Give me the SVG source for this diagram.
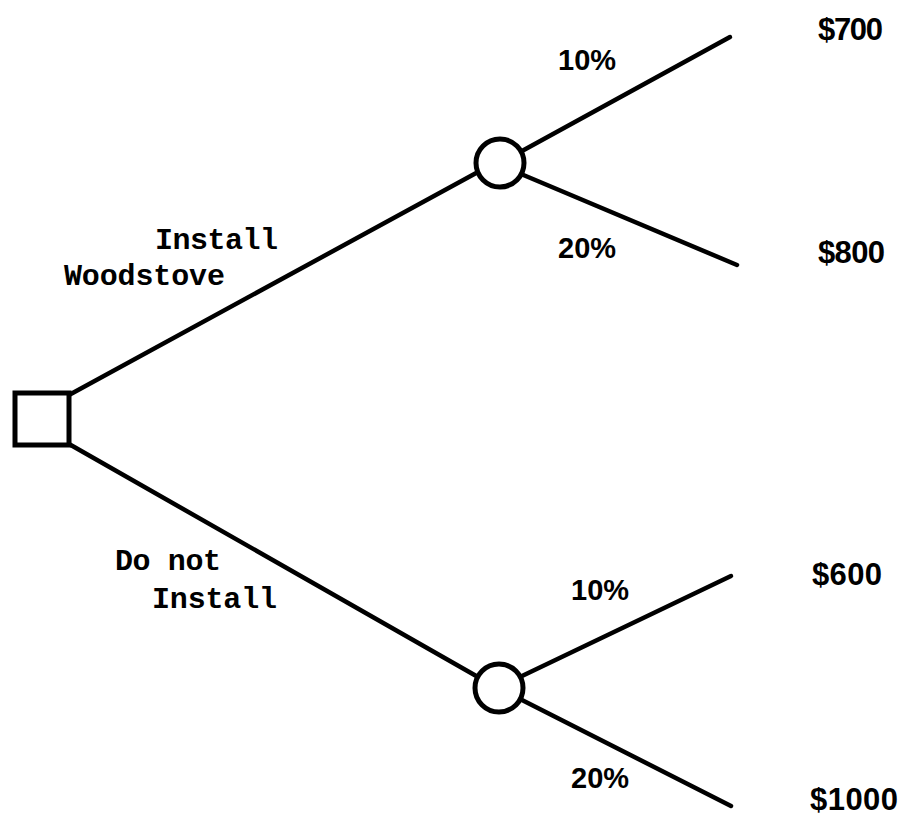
<svg xmlns="http://www.w3.org/2000/svg" width="905" height="822" viewBox="0 0 905 822">
  <style>
    .edge { stroke: #000; stroke-width: 4.5; stroke-linecap: round; fill: none; }
    .node { stroke: #000; stroke-width: 5; fill: #fff; }
    .mono { font-family: "Liberation Mono", "DejaVu Sans Mono", monospace; font-weight: bold; font-size: 30px; fill: #000; }
    .num { font-family: "Liberation Sans", "DejaVu Sans", sans-serif; font-weight: bold; font-size: 31px; fill: #000; }
    .pct { font-family: "Liberation Sans", "DejaVu Sans", sans-serif; font-weight: bold; font-size: 29px; fill: #000; }
  </style>
  <rect width="905" height="822" fill="#fff"/>

  <!-- branches -->
  <g id="connectors">
    <line class="edge" x1="69" y1="395" x2="478" y2="172"/>
    <line class="edge" x1="69" y1="444" x2="478" y2="677"/>
    <line class="edge" x1="522" y1="151" x2="730" y2="37"/>
    <line class="edge" x1="521" y1="174" x2="737" y2="265"/>
    <line class="edge" x1="522" y1="676" x2="731" y2="576"/>
    <line class="edge" x1="520" y1="699" x2="731" y2="806"/>
  </g>

  <!-- decision node -->
  <g id="decision">
    <rect class="node" x="15" y="393" width="54" height="52"/>
  </g>

  <!-- chance nodes -->
  <g id="chance-install">
    <circle class="node" cx="500" cy="163" r="24"/>
  </g>
  <g id="chance-no-install">
    <circle class="node" cx="499" cy="688" r="24"/>
  </g>

  <!-- option labels -->
  <g id="label-install">
    <text class="mono" x="155" y="249" textLength="123">Install</text>
    <text class="mono" x="64" y="285" textLength="161">Woodstove</text>
  </g>
  <g id="label-no-install">
    <text class="mono" x="115" y="570" textLength="106">Do not</text>
    <text class="mono" x="152" y="608" textLength="125">Install</text>
  </g>

  <!-- probabilities -->
  <g id="probabilities">
    <text class="pct" x="558" y="70">10%</text>
    <text class="pct" x="558" y="258">20%</text>
    <text class="pct" x="571" y="600">10%</text>
    <text class="pct" x="571" y="788">20%</text>
  </g>

  <!-- outcomes -->
  <g id="outcomes">
    <text class="num" x="818" y="40" textLength="65">$700</text>
    <text class="num" x="818" y="263" textLength="67">$800</text>
    <text class="num" x="812" y="585" textLength="70">$600</text>
    <text class="num" x="810" y="810" textLength="88">$1000</text>
  </g>
</svg>
